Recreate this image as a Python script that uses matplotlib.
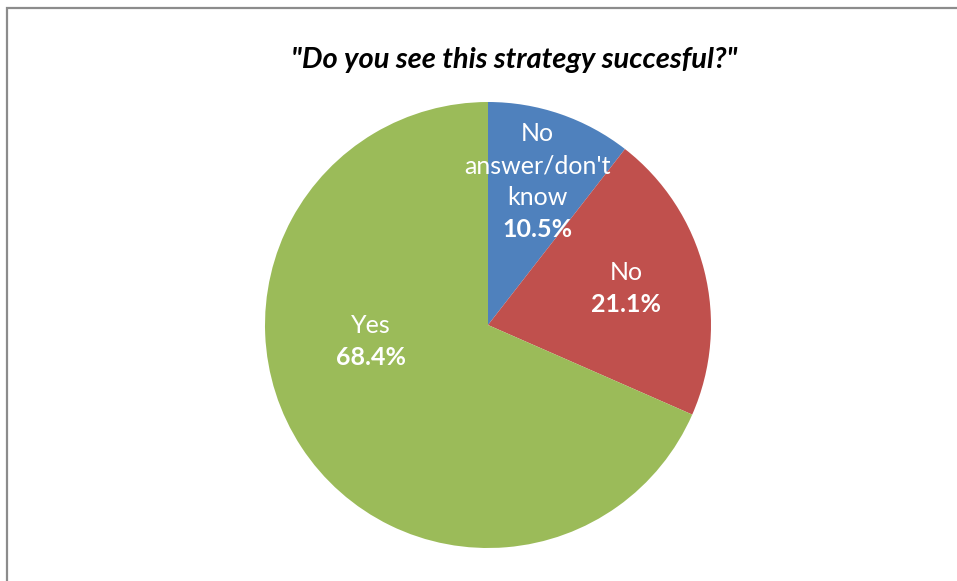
import numpy as np
import matplotlib.pyplot as plt
from matplotlib.patches import Rectangle

# survey answers (counts out of 19 respondents)
categories = ["No\nanswer/don't\nknow", "No", "Yes"]
counts = [2, 4, 13]
colors = ['#4F81BD', '#C0504D', '#9BBB59']
title = '"Do you see this strategy succesful?"'

# label anchor: (angle in degrees, fraction of radius)
label_pos = [(71.0, 0.68), (15.0, 0.64), (188.0, 0.53)]

W, H = 957, 581
fig = plt.figure(figsize=(W / 100, H / 100), dpi=100)
ax = fig.add_axes([0, 0, 1, 1])

cx, cy, r = 488, H - 325, 223
ax.pie(counts, colors=colors, startangle=90, counterclock=False,
       center=(cx, cy), radius=r, frame=True,
       wedgeprops=dict(linewidth=0))
ax.set_xlim(0, W)
ax.set_ylim(0, H)
ax.set_aspect('equal')
ax.axis('off')

total = sum(counts)
font = ['Lato', 'DejaVu Sans']
lh = 32  # line height in pixels
for name, c, (ang, frac) in zip(categories, counts, label_pos):
    a = np.deg2rad(ang)
    x = cx + frac * r * np.cos(a)
    y = cy + frac * r * np.sin(a)
    lines = name.split('\n')
    n = len(lines) + 1
    for i, line in enumerate(lines):
        ax.text(x, y + (n - 1) / 2 * lh - i * lh, line, ha='center',
                va='center', color='white', fontsize=18, family=font)
    pct = f'{100 * c / total:.1f}%'
    ax.text(x, y - (n - 1) / 2 * lh, pct, ha='center', va='center',
            color='white', fontsize=18, family=font, fontweight='bold')

fig.text(514 / W, 1 - 60 / H, title, ha='center', va='center',
         fontsize=21, fontweight='bold', fontstyle='italic', family=font)

fig.patches.append(Rectangle((7.5 / W, -0.1), 1.2, 1 - 7.5 / H + 0.1,
                             transform=fig.transFigure, fill=False,
                             edgecolor='#8c8c8c', linewidth=1.6))

fig.savefig('out.png', dpi=100)
